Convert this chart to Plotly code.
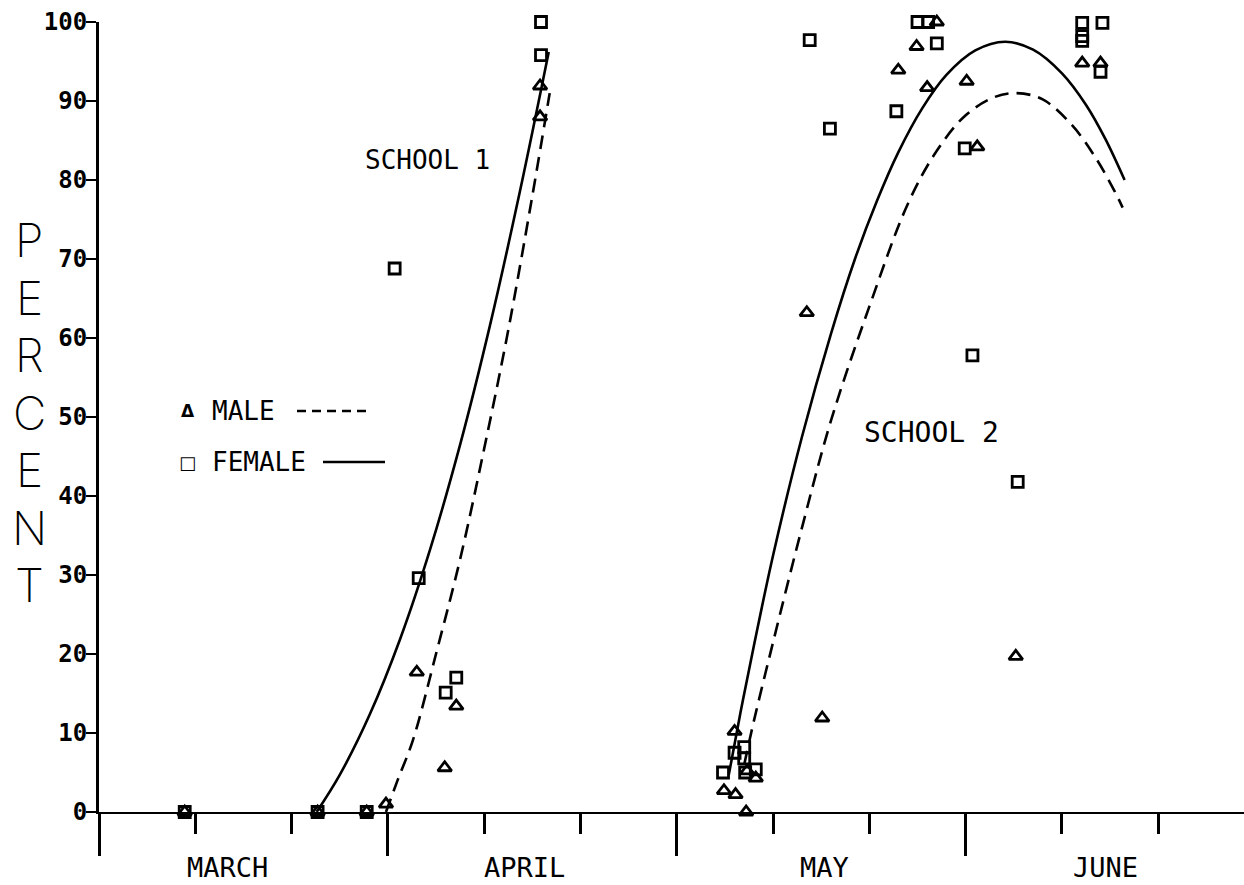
import plotly.graph_objects as go

# Days counted from 1 March (30-day months on the axis)
month_names = ["MARCH", "APRIL", "MAY", "JUNE"]
month_centers = [13.3, 44.2, 75.3, 104.5]
month_edges = [0, 30, 60, 90]
ten_day_ticks = [10, 20, 40, 50, 70, 80, 100, 110]
y_ticks = [0, 10, 20, 30, 40, 50, 60, 70, 80, 90, 100]

# Observed percentages, female pupils
female_day = [8.9, 22.7, 27.8, 30.7, 33.2, 36.0, 37.1, 45.9, 45.9,
              64.8, 66.0, 67.0, 67.0, 67.1, 68.2, 73.8, 75.9, 82.8,
              85.0, 86.1, 87.0, 89.9, 90.7, 95.4, 102.1, 102.1, 102.1,
              104.2, 104.0]
female_pct = [0, 0, 0, 68.8, 29.6, 15.1, 17.0, 100, 95.8,
              5.0, 7.5, 8.2, 6.8, 5.0, 5.4, 97.7, 86.5, 88.7,
              100, 100, 97.3, 84.0, 57.8, 41.8, 99.9, 98.2, 97.6,
              99.9, 93.7]

# Observed percentages, male pupils
male_day = [8.9, 22.7, 27.8, 29.8, 33.0, 35.9, 37.1, 45.8, 45.8,
            64.9, 66.0, 66.1, 67.2, 67.3, 68.2, 73.5, 75.1, 83.0,
            84.9, 86.0, 87.0, 90.1, 91.2, 95.2, 102.1, 104.0]
male_pct = [0, 0, 0, 1.0, 17.7, 5.6, 13.4, 91.9, 88.0,
            2.7, 10.2, 2.2, 0, 5.2, 4.3, 63.2, 11.9, 93.9,
            96.9, 91.7, 100, 92.5, 84.2, 19.7, 94.8, 94.8]

# Fitted curves, school 1
s1_female_day = [22.6, 25.0, 28.1, 31.3, 34.4, 37.5, 40.6, 43.7, 46.7]
s1_female_pct = [0, 4.7, 12.3, 22.0, 33.3, 46.5, 61.6, 78.5, 96.2]
s1_male_day = [29.8, 31.0, 32.6, 35.1, 37.5, 40.0, 42.5, 45.0, 46.8]
s1_male_pct = [0, 4.0, 9.1, 20.5, 32.0, 46.0, 61.0, 78.0, 91.0]

# Fitted curves, school 2
s2_female_day = [65.4, 66.6, 68.0, 70.0, 73.0, 76.0, 78.5, 80.8, 83.0,
                 85.5, 88.0, 91.0, 94.1, 97.0, 100.0, 102.5, 104.5, 106.5]
s2_female_pct = [4.7, 12.5, 21.0, 32.5, 47.5, 60.5, 70.0, 77.4, 83.5,
                 89.1, 93.3, 96.4, 97.5, 96.5, 93.5, 89.5, 85.2, 80.0]
s2_male_day = [67.0, 68.0, 70.0, 73.0, 76.0, 80.0, 84.0, 87.0, 90.0,
               93.0, 95.3, 98.0, 101.0, 103.5, 105.5, 106.3]
s2_male_pct = [6.0, 11.5, 21.5, 36.0, 49.5, 64.0, 77.0, 83.7, 88.2,
               90.5, 91.0, 90.2, 87.0, 82.8, 78.5, 76.5]

INK = "#000000"
MONO = "DejaVu Sans Mono"

fig = go.Figure()

for xs, ys in [(s1_female_day, s1_female_pct), (s2_female_day, s2_female_pct)]:
    fig.add_trace(go.Scatter(x=xs, y=ys, mode="lines", line_shape="spline",
                             line=dict(color=INK, width=2.6),
                             showlegend=False, hoverinfo="skip", cliponaxis=False))
for xs, ys in [(s1_male_day, s1_male_pct), (s2_male_day, s2_male_pct)]:
    fig.add_trace(go.Scatter(x=xs, y=ys, mode="lines", line_shape="spline",
                             line=dict(color=INK, width=2.6, dash="14px,8px"),
                             showlegend=False, hoverinfo="skip", cliponaxis=False))

fig.add_trace(go.Scatter(x=female_day, y=female_pct, mode="markers", name="FEMALE",
                         marker=dict(symbol="square-open", size=11, color=INK,
                                     line=dict(width=2.8, color=INK)),
                         showlegend=False, cliponaxis=False))
fig.add_trace(go.Scatter(x=male_day, y=male_pct, mode="markers", name="MALE",
                         marker=dict(symbol="triangle-up-open", size=12, color=INK,
                                     line=dict(width=2.8, color=INK)),
                         showlegend=False, cliponaxis=False))


def px_x(px):
    """Horizontal pixel of the page to paper fraction of the plot area."""
    return (px - 99) / 1145


def px_y(py):
    """Vertical pixel of the page to paper fraction of the plot area."""
    return (812 - py) / 790


annotations = []
for name, cx in zip(month_names, month_centers):
    annotations.append(dict(x=cx, y=0, xref="x", yref="y", text=name, showarrow=False,
                            yanchor="top", yshift=-38,
                            font=dict(family=MONO, size=27, color=INK)))

annotations.append(dict(x=27.4, y=82.5, xref="x", yref="y", text="SCHOOL 1",
                        showarrow=False, xanchor="left",
                        font=dict(family=MONO, size=26, color=INK)))
annotations.append(dict(x=79.2, y=48.0, xref="x", yref="y", text="SCHOOL 2",
                        showarrow=False, xanchor="left",
                        font=dict(family=MONO, size=28, color=INK)))

# Vertical axis title, one letter per line
for i, ch in enumerate("PERCENT"):
    annotations.append(dict(x=px_x(29), y=px_y(240 + 57.5 * i), xref="paper", yref="paper",
                            xanchor="center", yanchor="middle", text=ch, showarrow=False,
                            font=dict(family="Inter", size=46, color=INK, weight=200)))

# Legend block
annotations += [
    dict(x=px_x(188), y=px_y(411), xref="paper", yref="paper", text="Δ",
         xanchor="center", yanchor="middle", showarrow=False,
         font=dict(family="DejaVu Sans", size=17, color=INK, weight="bold")),
    dict(x=px_x(210), y=px_y(411), xref="paper", yref="paper", text="MALE",
         showarrow=False, xanchor="left", yanchor="middle",
         font=dict(family=MONO, size=26, color=INK)),
    dict(x=px_x(187), y=px_y(462), xref="paper", yref="paper", text="□",
         xanchor="center", yanchor="middle", showarrow=False,
         font=dict(family="DejaVu Sans", size=18, color=INK, weight="bold")),
    dict(x=px_x(210), y=px_y(462), xref="paper", yref="paper", text="FEMALE",
         showarrow=False, xanchor="left", yanchor="middle",
         font=dict(family=MONO, size=26, color=INK)),
]

shapes = [
    dict(type="line", xref="paper", yref="paper", x0=px_x(297), x1=px_x(372),
         y0=px_y(411), y1=px_y(411), line=dict(color=INK, width=2.4, dash="9px,6px")),
    dict(type="line", xref="paper", yref="paper", x0=px_x(323), x1=px_x(385),
         y0=px_y(462), y1=px_y(462), line=dict(color=INK, width=2.4)),
]

fig.update_layout(
    width=1244, height=885,
    margin=dict(l=99, r=0, t=22, b=73),
    paper_bgcolor="white", plot_bgcolor="white",
    annotations=annotations, shapes=shapes,
    font=dict(family=MONO, color=INK),
    xaxis=dict(range=[0, 118.9], showgrid=False, zeroline=False,
               showline=True, linecolor=INK, linewidth=2,
               tickmode="array", tickvals=month_edges, ticktext=[""] * 4,
               ticks="outside", ticklen=42, tickwidth=2.6, tickcolor=INK,
               minor=dict(tickmode="array", tickvals=ten_day_ticks, ticks="outside",
                          ticklen=20, tickwidth=2.6, tickcolor=INK, showgrid=False)),
    yaxis=dict(range=[0, 100], showgrid=False, zeroline=False,
               showline=True, linecolor=INK, linewidth=3,
               tickmode="array", tickvals=y_ticks,
               ticks="outside", ticklen=10, tickwidth=2.4, tickcolor=INK,
               ticklabelstandoff=-6,
               tickfont=dict(family=MONO, size=24, color=INK, weight="bold")),
)

fig.write_html("out.html")
